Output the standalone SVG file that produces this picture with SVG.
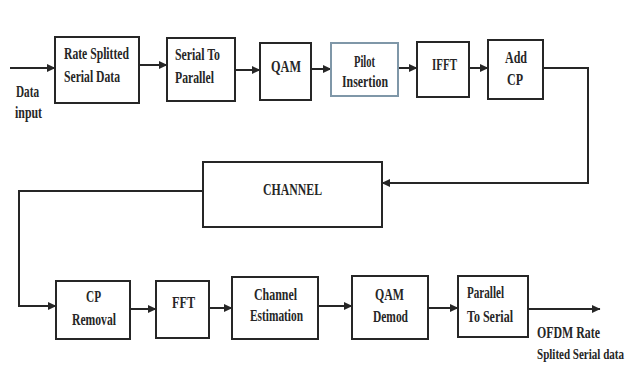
<svg xmlns="http://www.w3.org/2000/svg" width="632" height="368" viewBox="0 0 632 368">
<style>
.box{fill:#fff;stroke:#262626;stroke-width:2}
.pilot{fill:#fff;stroke:#7f97a8;stroke-width:2}
.t{font-family:"Liberation Serif","Times New Roman",serif;font-weight:bold;font-size:16px;fill:#262626}
.s{font-size:15px}
.c{fill:none;stroke:#262626;stroke-width:2}
</style>
<defs>
<marker id="ah" markerUnits="userSpaceOnUse" markerWidth="9" markerHeight="9" refX="8" refY="4.5" orient="auto">
<path d="M0,0.5 L8.5,4.5 L0,8.5 z" fill="#262626"/>
</marker>
</defs>
<rect width="632" height="368" fill="#fff"/>
<g id="connectors">
<path class="c" d="M10,68 H55" marker-end="url(#ah)"/>
<path class="c" d="M139,65 H167" marker-end="url(#ah)"/>
<path class="c" d="M235,70 H260" marker-end="url(#ah)"/>
<path class="c" d="M311,69 H331" marker-end="url(#ah)"/>
<path class="c" d="M398,68 H417" marker-end="url(#ah)"/>
<path class="c" d="M469,68 H488" marker-end="url(#ah)"/>
<path class="c" d="M543,68 H588 V183 H382" marker-end="url(#ah)"/>
<path class="c" d="M203,191 H19 V306 H56" marker-end="url(#ah)"/>
<path class="c" d="M130,309 H156" marker-end="url(#ah)"/>
<path class="c" d="M209,308 H232" marker-end="url(#ah)"/>
<path class="c" d="M318,306 H352" marker-end="url(#ah)"/>
<path class="c" d="M428,308 H458" marker-end="url(#ah)"/>
<path class="c" d="M528,309 H600" marker-end="url(#ah)"/>
</g>
<g id="data-input">
<text class="t" x="16" y="97" textLength="23" lengthAdjust="spacingAndGlyphs">Data</text>
<text class="t" x="15" y="118" textLength="27" lengthAdjust="spacingAndGlyphs">input</text>
</g>
<g id="rate-splitted">
<rect class="box" x="55" y="37" width="84" height="66"/>
<text class="t" x="64" y="59" textLength="65" lengthAdjust="spacingAndGlyphs">Rate Splitted</text>
<text class="t" x="64" y="82" textLength="56" lengthAdjust="spacingAndGlyphs">Serial Data</text>
</g>
<g id="serial-to-parallel">
<rect class="box" x="167" y="38" width="68" height="63"/>
<text class="t" x="175" y="60" textLength="45" lengthAdjust="spacingAndGlyphs">Serial To</text>
<text class="t" x="175" y="83" textLength="39" lengthAdjust="spacingAndGlyphs">Parallel</text>
</g>
<g id="qam">
<rect class="box" x="260" y="43" width="51" height="57"/>
<text class="t" x="271" y="72" textLength="30" lengthAdjust="spacingAndGlyphs">QAM</text>
</g>
<g id="pilot-insertion">
<rect class="pilot" x="331" y="43" width="67" height="53"/>
<text class="t" x="354" y="67" textLength="21" lengthAdjust="spacingAndGlyphs">Pilot</text>
<text class="t" x="342" y="87" textLength="46" lengthAdjust="spacingAndGlyphs">Insertion</text>
</g>
<g id="ifft">
<rect class="box" x="417" y="42" width="52" height="55"/>
<text class="t" x="432" y="70" textLength="25" lengthAdjust="spacingAndGlyphs">IFFT</text>
</g>
<g id="add-cp">
<rect class="box" x="488" y="40" width="55" height="59"/>
<text class="t" x="505" y="63" textLength="22" lengthAdjust="spacingAndGlyphs">Add</text>
<text class="t" x="507" y="85" textLength="16" lengthAdjust="spacingAndGlyphs">CP</text>
</g>
<g id="channel">
<rect class="box" x="203" y="162" width="179" height="65"/>
<text class="t" x="263" y="195" textLength="59" lengthAdjust="spacingAndGlyphs">CHANNEL</text>
</g>
<g id="cp-removal">
<rect class="box" x="56" y="281" width="74" height="58"/>
<text class="t" x="86" y="302" textLength="15" lengthAdjust="spacingAndGlyphs">CP</text>
<text class="t" x="72" y="325" textLength="44" lengthAdjust="spacingAndGlyphs">Removal</text>
</g>
<g id="fft">
<rect class="box" x="156" y="281" width="53" height="57"/>
<text class="t" x="172" y="308" textLength="23" lengthAdjust="spacingAndGlyphs">FFT</text>
</g>
<g id="channel-estimation">
<rect class="box" x="232" y="277" width="86" height="62"/>
<text class="t" x="254" y="300" textLength="43" lengthAdjust="spacingAndGlyphs">Channel</text>
<text class="t" x="250" y="321" textLength="53" lengthAdjust="spacingAndGlyphs">Estimation</text>
</g>
<g id="qam-demod">
<rect class="box" x="352" y="276" width="76" height="63"/>
<text class="t" x="375" y="300" textLength="29" lengthAdjust="spacingAndGlyphs">QAM</text>
<text class="t" x="373" y="322" textLength="35" lengthAdjust="spacingAndGlyphs">Demod</text>
</g>
<g id="parallel-to-serial">
<rect class="box" x="458" y="276" width="70" height="61"/>
<text class="t" x="467" y="298" textLength="37" lengthAdjust="spacingAndGlyphs">Parallel</text>
<text class="t" x="467" y="322" textLength="46" lengthAdjust="spacingAndGlyphs">To Serial</text>
</g>
<g id="output-label">
<text class="t" x="537" y="338" textLength="63" lengthAdjust="spacingAndGlyphs">OFDM Rate</text>
<text class="t s" x="624" y="359" text-anchor="end" textLength="87" lengthAdjust="spacingAndGlyphs">Splited Serial data</text>
</g>
</svg>
